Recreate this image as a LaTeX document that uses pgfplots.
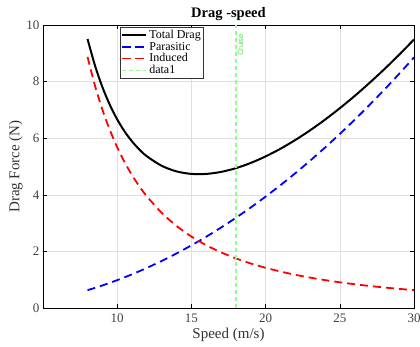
\documentclass[border=0pt]{standalone}
\usepackage{pgfplots}
\pgfplotsset{compat=1.18}
\usepackage{fontspec}
\setmainfont{Liberation Serif}
\setsansfont{Liberation Sans}
\definecolor{cruisegreen}{rgb}{0.55,1,0.55}
\definecolor{cruisetext}{rgb}{0.3,0.9,0.3}
\begin{document}
\begin{tikzpicture}
\begin{axis}[
  name=main,
  scale only axis,
  width=371pt, height=283pt,
  xmin=5, xmax=30, ymin=0, ymax=10,
  xtick={10,15,20,25,30}, ytick={0,2,4,6,8,10},
  tick align=inside,
  major tick length=4pt,
  grid=major,
  grid style={gray!25, line width=0.6pt},
  axis line style={line width=0.9pt},
  every tick/.style={black, line width=0.6pt},
  tick label style={font=\fontsize{13}{15}\selectfont, text=black!75},
  xticklabel style={yshift=-2pt},
  /pgf/number format/assume math mode=true,
  xlabel={Speed (m/s)},
  ylabel={Drag Force (N)},
  label style={font=\fontsize{15}{17}\selectfont, text=black!80},
  xlabel style={yshift=1pt},
  ylabel style={yshift=-3pt},
  title={\textbf{Drag -speed}},
  title style={font=\fontsize{14.5}{16}\selectfont, yshift=-5pt},
  legend cell align=left,
  legend style={at={(0.2075,0.993)}, anchor=north west,
    font=\fontsize{12}{13}\selectfont, draw=black!80, line width=0.7pt,
    inner xsep=1pt, inner ysep=1pt, row sep=-2pt},
  legend image code/.code={\draw[#1] plot coordinates {(0pt,0pt) (24pt,0pt)};},
]
\addplot[black, line width=2pt, smooth] coordinates {
(8,9.505)(8.5,8.5725)(9,7.809)(9.5,7.1817)(10,6.664)(10.5,6.2367)(11,5.885)(11.5,5.596)(12,5.361)(13,5.024)(14,4.827)(15,4.738)(16,4.738)(17,4.809)(18,4.941)(19,5.126)(20,5.356)(21,5.627)(22,5.936)(23,6.279)(24,6.654)(25,7.059)(26,7.492)(27,7.953)(28,8.439)(29,8.951)(30,9.487)};
\addlegendentry{Total Drag}
\addplot[blue, line width=1.8pt, dash pattern=on 8pt off 5pt, smooth] coordinates {
(8,0.6298)(8.5,0.7109)(9,0.7970)(9.5,0.8881)(10,0.984)(10.5,1.0848)(11,1.1906)(11.5,1.3013)(12,1.4170)(13,1.6630)(14,1.9286)(15,2.2140)(16,2.5190)(17,2.8438)(18,3.1882)(19,3.5522)(20,3.936)(21,4.3394)(22,4.7626)(23,5.2054)(24,5.6678)(25,6.15)(26,6.6518)(27,7.1734)(28,7.7146)(29,8.2754)(30,8.856)};
\addlegendentry{Parasitic}
\addplot[red, line width=1.8pt, dash pattern=on 8pt off 5pt, smooth] coordinates {
(8,8.875)(8.5,7.8616)(9,7.0123)(9.5,6.2936)(10,5.68)(10.5,5.1519)(11,4.6942)(11.5,4.2949)(12,3.9444)(13,3.3609)(14,2.8980)(15,2.5244)(16,2.21875)(17,1.9654)(18,1.7531)(19,1.5734)(20,1.42)(21,1.2880)(22,1.1736)(23,1.0737)(24,0.9861)(25,0.9088)(26,0.8402)(27,0.7791)(28,0.7245)(29,0.6754)(30,0.6311)};
\addlegendentry{Induced}
\addplot[cruisegreen, line width=1.4pt, dash pattern=on 4pt off 3pt] coordinates {(18,0)(18,10)};
\addlegendentry{data1}
\node[rotate=90, anchor=east, text=cruisetext, font=\sffamily\fontsize{7.5}{8}\selectfont] at (axis cs:18.3,9.8) {Cruise};
\end{axis}
\pgfresetboundingbox
\path[use as bounding box] ([shift={(-43pt,-38pt)}]main.south west) rectangle ([shift={(6pt,25pt)}]main.north east);
\end{tikzpicture}
\end{document}
